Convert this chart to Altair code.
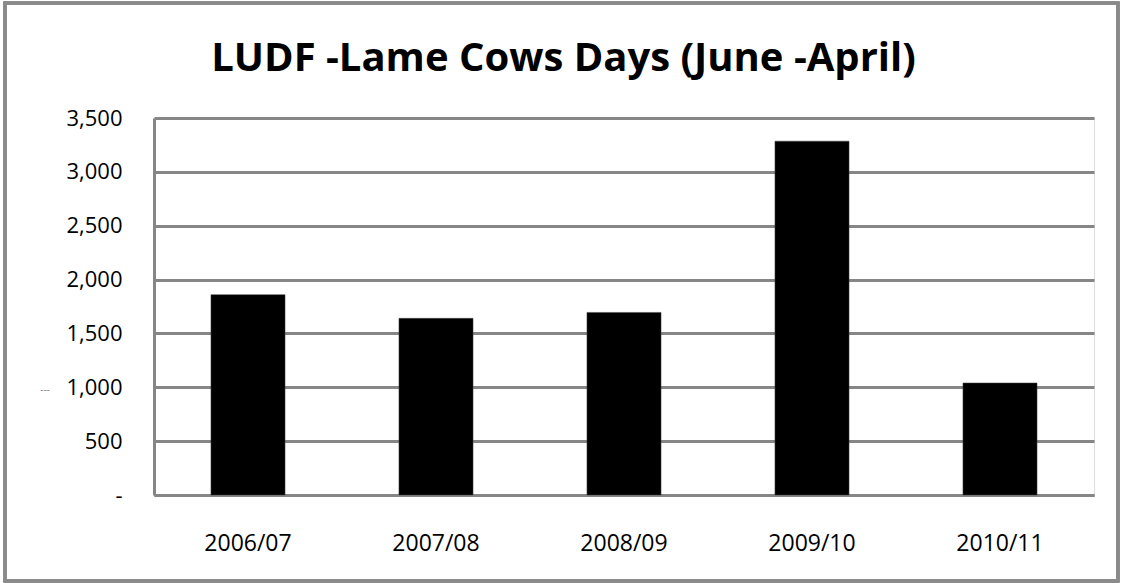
import altair as alt
import pandas as pd

seasons = ["2006/07", "2007/08", "2008/09", "2009/10", "2010/11"]
lame_cow_days = [1860, 1640, 1695, 3285, 1040]
y_ticks = [0, 500, 1000, 1500, 2000, 2500, 3000, 3500]
title_text = ["LUDF -Lame Cows Days (June -April)"]

df = pd.DataFrame({"season": seasons, "days": lame_cow_days})

GRID = "#868686"
NBSP = "\u00a0"

bars = alt.Chart(df).mark_bar(color="black", stroke="#444444", strokeWidth=0.5).encode(
    x=alt.X(
        "season:N",
        sort=seasons,
        scale=alt.Scale(paddingInner=0.606, paddingOuter=0.303),
        axis=alt.Axis(
            title=None, labelAngle=0, ticks=False, tickSize=0, labelPadding=55,
            labelBaseline="alphabetic", labelFont="Open Sans", labelFontSize=23,
            labelColor="black", domainColor=GRID, domainWidth=3, grid=False,
        ),
    ),
    y=alt.Y(
        "days:Q",
        scale=alt.Scale(domain=[0, 3500], nice=False),
        axis=alt.Axis(
            title=None, values=y_ticks,
            labelExpr=f"datum.value == 0 ? '-{NBSP}{NBSP}' : format(datum.value, ',')",
            ticks=False, tickSize=0, labelPadding=32, labelFont="Open Sans",
            labelFontSize=22, labelColor="black", gridColor=GRID, gridWidth=3,
            gridOpacity=1, domainColor=GRID, domainWidth=3,
        ),
    ),
)

frame = alt.Chart(df).mark_rect(fillOpacity=0, stroke="#8a8a8a", strokeWidth=3).encode(
    x=alt.value(-149), x2=alt.value(964), y=alt.value(-115), y2=alt.value(463)
)

title = alt.Chart(pd.DataFrame({"t": title_text})).mark_text(
    font="Open Sans", fontSize=40, fontWeight="bold", color="black",
    align="center", baseline="alphabetic",
).encode(text="t:N", x=alt.value(409.5), y=alt.value(-47))

artifact = alt.Chart(pd.DataFrame({"t": ["---"]})).mark_text(
    font="Open Sans", fontSize=10, color="#888888", align="center", baseline="middle"
).encode(text="t:N", x=alt.value(-109), y=alt.value(272))

chart = alt.layer(frame, bars, title, artifact).properties(
    width=940,
    height=377,
    autosize=alt.AutoSizeParams(type="none"),
    padding={"left": 154, "top": 118, "right": 27, "bottom": 88},
).configure_view(stroke=None).configure(background="white")

chart.save("out.html", embed_options={"renderer": "svg", "actions": False})
